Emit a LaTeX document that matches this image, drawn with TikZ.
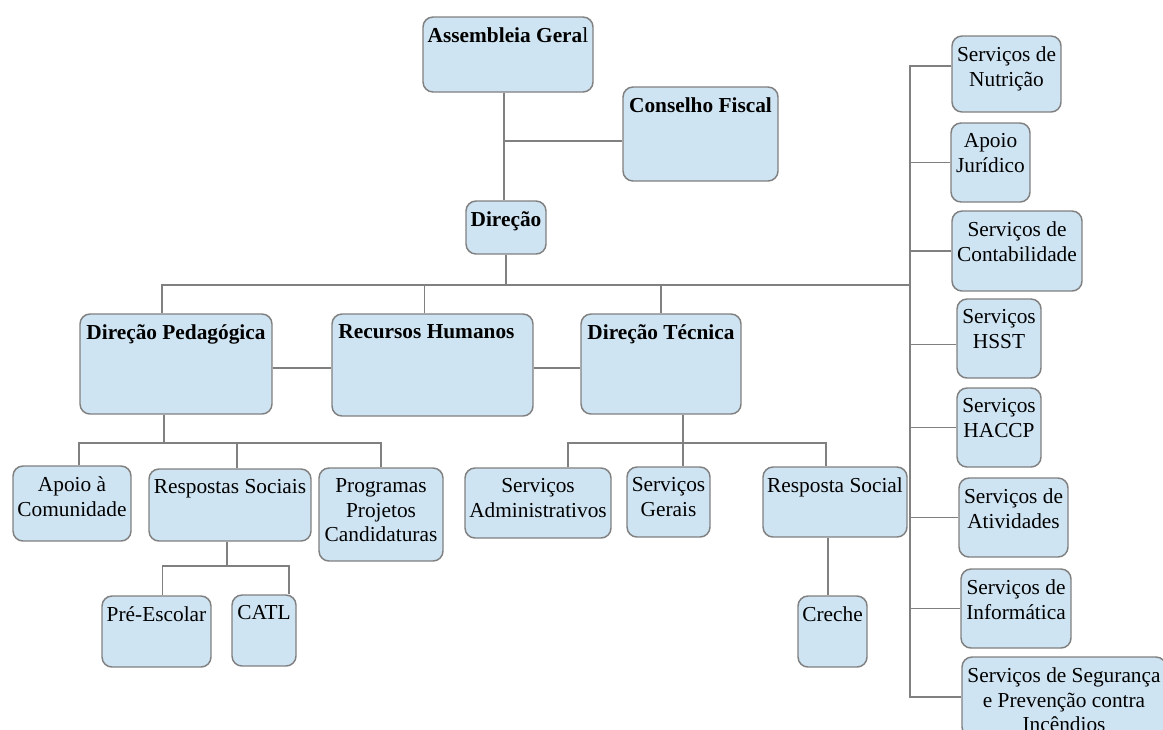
\documentclass[tikz,border=0pt]{standalone}
\usepackage{fontspec}
\setmainfont{Liberation Serif}
\usepackage{tikz}
\usetikzlibrary{fit,calc}
\definecolor{boxfill}{RGB}{207,228,242}
\definecolor{boxline}{RGB}{128,128,128}

\begin{document}
\begin{tikzpicture}[x=0.75pt,y=0.75pt,yscale=-1,xscale=1,
  box/.style={draw=boxline, line width=1.1pt, fill=boxfill, rounded corners=7.5pt, inner sep=0pt},
  txt/.style={anchor=north, align=center, inner sep=0pt, font=\fontsize{16}{18.5}\selectfont},
  conn/.style={draw=boxline, line width=1.1pt}]
\useasboundingbox (0,0) rectangle (1163,729);

%Boxes: top
\node (ag) [box, fit={(423,17) (593,92)}] {};
\node (cf) [box, fit={(623,87) (778,181)}] {};
\node (dir) [box, fit={(466,201) (546,254)}] {};
%Boxes: second level
\node (dp) [box, fit={(80,314) (272,414)}] {};
\node (rh) [box, fit={(332,314) (533,416)}] {};
\node (dt) [box, fit={(581,314) (741,414)}] {};
%Boxes: pedagogica
\node (ac) [box, fit={(13,466) (131,541)}] {};
\node (rs) [box, fit={(149,469) (311,541)}] {};
\node (prog) [box, fit={(319,468) (443,561)}] {};
\node (pre) [box, fit={(102,596) (211,667)}] {};
\node (catl) [box, fit={(232,595) (296,666)}] {};
%Boxes: tecnica
\node (sa) [box, fit={(465,468) (611,538)}] {};
\node (sg) [box, fit={(627,467) (710,537)}] {};
\node (rsoc) [box, fit={(763,467) (907,537)}] {};
\node (cre) [box, fit={(798,596) (867,667)}] {};
%Boxes: right column
\node (nut) [box, fit={(952,36) (1061,112)}] {};
\node (jur) [box, fit={(951,123) (1030,202)}] {};
\node (cont) [box, fit={(952,211) (1082,291)}] {};
\node (hsst) [box, fit={(957,299) (1041,378)}] {};
\node (haccp) [box, fit={(957,388) (1041,467)}] {};
\node (ativ) [box, fit={(959,478) (1068,557)}] {};
\node (info) [box, fit={(961,569) (1071,648)}] {};
\node (seg) [box, fit={(962,657) (1166,737)}] {};

% Text Nodes
\node (ag-t) [txt] at ($(ag.north)+(0,11)$) {\textbf{Assembleia Gera}l};
\node (cf-t) [txt] at ($(cf.north)+(0,11)$) {\textbf{Conselho Fiscal}};
\node (dir-t) [txt] at ($(dir.north)+(0,11)$) {\textbf{Direção}};
\node (dp-t) [txt] at ($(dp.north)+(0,11)$) {\textbf{Direção Pedagógica}};
\node (rh-t) [txt] at ($(rh.north)+(-6,11)$) {\textbf{Recursos Humanos}};
\node (dt-t) [txt] at ($(dt.north)+(0,11)$) {\textbf{Direção Técnica}};
\node (ac-t) [txt] at ($(ac.north)+(0,11)$) {Apoio à\\Comunidade};
\node (rs-t) [txt] at ($(rs.north)+(0,11)$) {Respostas Sociais};
\node (prog-t) [txt] at ($(prog.north)+(0,11)$) {Programas\\Projetos\\Candidaturas};
\node (pre-t) [txt] at ($(pre.north)+(0,11)$) {Pré-Escolar};
\node (catl-t) [txt] at ($(catl.north)+(0,11)$) {CATL};
\node (sa-t) [txt] at ($(sa.north)+(0,11)$) {Serviços\\Administrativos};
\node (sg-t) [txt] at ($(sg.north)+(0,11)$) {Serviços\\Gerais};
\node (rsoc-t) [txt] at ($(rsoc.north)+(0,11)$) {Resposta Social};
\node (cre-t) [txt] at ($(cre.north)+(0,11)$) {Creche};
\node (nut-t) [txt] at ($(nut.north)+(0,11)$) {Serviços de\\Nutrição};
\node (jur-t) [txt] at ($(jur.north)+(0,11)$) {Apoio\\Jurídico};
\node (cont-t) [txt] at ($(cont.north)+(0,11)$) {Serviços de\\Contabilidade};
\node (hsst-t) [txt] at ($(hsst.north)+(0,11)$) {Serviços\\HSST};
\node (haccp-t) [txt] at ($(haccp.north)+(0,11)$) {Serviços\\HACCP};
\node (ativ-t) [txt] at ($(ativ.north)+(0,11)$) {Serviços de\\Atividades};
\node (info-t) [txt] at ($(info.north)+(0,11)$) {Serviços de\\Informática};
\node (seg-t) [txt] at ($(seg.north)+(0,11)$) {Serviços de Segurança\\e Prevenção contra\\Incêndios};

% Connectors: top
\coordinate (hbus) at (0,285);
\coordinate (pbus) at (0,443);
\coordinate (sbus) at (0,566);
\coordinate (spine) at (910,0);
\coordinate (agb) at ($(ag.south)+(-4,0)$);
\coordinate (cfw) at ($(cf.west)+(0,7)$);
\draw[conn] (agb) -- (agb |- dir.north);
\draw[conn] (cfw) -- (cfw -| agb);

% Connectors: main bus
\coordinate (dpn) at ($(dp.north)+(-14,0)$);
\coordinate (rhn) at ($(rh.north)+(-8,0)$);
\coordinate (dpe) at ($(dp.east)+(0,4)$);
\coordinate (rhe) at ($(rh.east)+(0,3)$);
\draw[conn] (dir.south) -- (dir.south |- hbus);
\draw[conn] (dpn) -- (dpn |- hbus) -- (hbus -| spine);
\draw[conn] (rhn) -- (rhn |- hbus);
\draw[conn] (dt.north) -- (dt.north |- hbus);
\draw[conn] (dpe) -- (dpe -| rh.west);
\draw[conn] (rhe) -- (rhe -| dt.west);

% Connectors: pedagogica
\coordinate (dps) at ($(dp.south)+(-12,0)$);
\coordinate (acn) at ($(ac.north)+(7,0)$);
\coordinate (rsn) at ($(rs.north)+(7,0)$);
\coordinate (rss) at ($(rs.south)+(-3,0)$);
\coordinate (pren) at ($(pre.north)+(6,0)$);
\coordinate (catln) at ($(catl.north)+(25,0)$);
\draw[conn] (dps) -- (dps |- pbus);
\draw[conn] (acn) -- (acn |- pbus) -- (pbus -| prog.north) -- (prog.north);
\draw[conn] (rsn) -- (rsn |- pbus);
\draw[conn] (rss) -- (rss |- sbus);
\draw[conn] (pren) -- (pren |- sbus) -- (sbus -| catln) -- (catln);

% Connectors: tecnica
\coordinate (dts) at ($(dt.south)+(22,0)$);
\coordinate (san) at ($(sa.north)+(30,0)$);
\coordinate (rsocn) at ($(rsoc.north)+(-9,0)$);
\coordinate (rsocs) at ($(rsoc.south)+(-7,0)$);
\draw[conn] (dts) -- (dts |- sg.north);
\draw[conn] (san) -- (san |- pbus) -- (pbus -| rsocn) -- (rsocn);
\draw[conn] (rsocs) -- (rsocs |- cre.north);

% Connectors: right column
\coordinate (nutw) at ($(nut.west)+(0,-8)$);
\coordinate (hsstw) at ($(hsst.west)+(0,6)$);
\draw[conn] (nutw) -- (nutw -| spine) -- (spine |- seg.west) -- (seg.west);
\draw[conn] (jur.west) -- (jur.west -| spine);
\draw[conn] (cont.west) -- (cont.west -| spine);
\draw[conn] (hsstw) -- (hsstw -| spine);
\draw[conn] (haccp.west) -- (haccp.west -| spine);
\draw[conn] (ativ.west) -- (ativ.west -| spine);
\draw[conn] (info.west) -- (info.west -| spine);

\end{tikzpicture}
\end{document}
